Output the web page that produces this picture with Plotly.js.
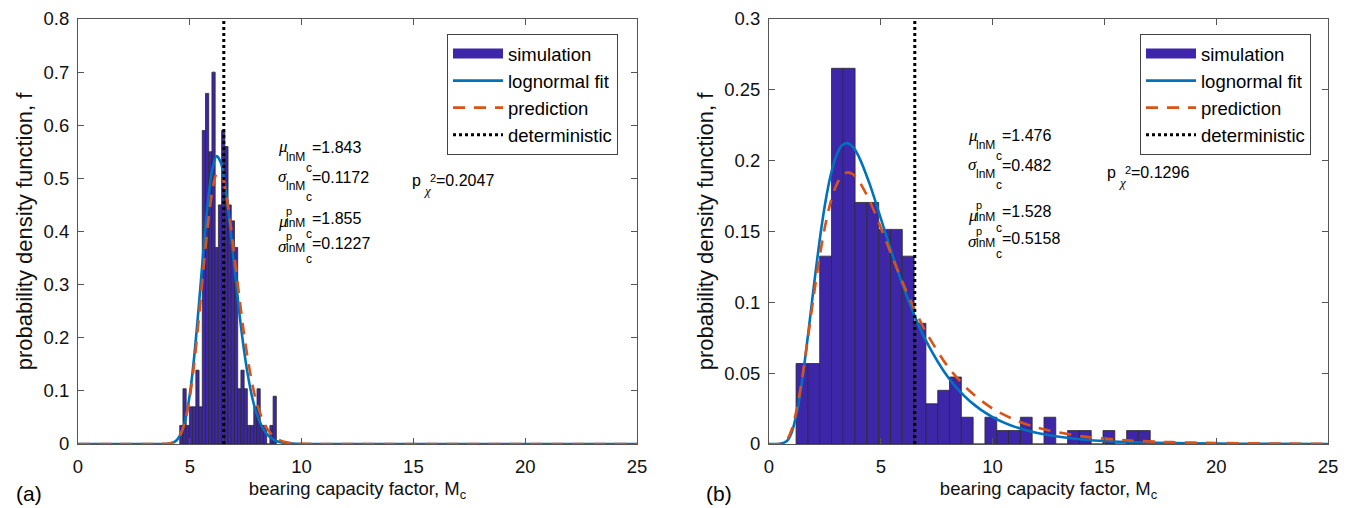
<!DOCTYPE html>
<html>
<head>
<meta charset="utf-8">
<script src="https://cdn.plot.ly/plotly-3.0.1.min.js"></script>
<style>html,body{margin:0;padding:0;background:#fff;}#chart{width:1348px;height:508px;}</style>
</head>
<body>
<div id="chart"></div>
<script>
// ---------------- data ----------------
// (a) histogram of simulated bearing capacity factor (bin centres, density)
const leftBinCenters = [4.622, 4.766, 4.910, 5.054, 5.198, 5.342, 5.486, 5.630, 5.774, 5.918,
  6.062, 6.206, 6.350, 6.494, 6.638, 6.782, 6.926, 7.070, 7.214, 7.358,
  7.502, 7.646, 7.790, 7.934, 8.078, 8.222, 8.366, 8.510, 8.654, 8.798];
const leftBinWidth = 0.144;
const leftDensity = [0.035, 0.104, 0.035, 0.070, 0.070, 0.139, 0.070, 0.590, 0.660, 0.550,
  0.700, 0.370, 0.450, 0.590, 0.560, 0.450, 0.420, 0.370, 0.104, 0.139,
  0.104, 0.035, 0.035, 0.070, 0.104, 0.035, 0.035, 0.000, 0.035, 0.090];

// (a) curves
const leftCurveX = [0, 3.5, 4.0, 4.2, 4.4, 4.6, 4.8, 5.0, 5.2, 5.4, 5.6, 5.8, 6.0, 6.2, 6.4,
  6.6, 6.8, 7.0, 7.2, 7.4, 7.6, 7.8, 8.0, 8.4, 8.8, 9.2, 9.8, 10.5, 12, 25];
const leftFit = [0, 0, 0.0004, 0.0019, 0.0067, 0.0191, 0.0458, 0.0934, 0.1656, 0.2582, 0.3592,
  0.4509, 0.5157, 0.5422, 0.5285, 0.4805, 0.4103, 0.3308, 0.2529, 0.1843, 0.1287, 0.0862,
  0.0557, 0.0210, 0.0070, 0.0021, 0.0003, 0.0000, 0, 0];
const leftPred = [0, 0, 0.0006, 0.0022, 0.0072, 0.0195, 0.0445, 0.0877, 0.1521, 0.2343, 0.3250,
  0.4099, 0.4746, 0.5085, 0.5080, 0.4761, 0.4210, 0.3530, 0.2819, 0.2154, 0.1582, 0.1118,
  0.0763, 0.0325, 0.0124, 0.0043, 0.0008, 0.0001, 0, 0];

// (b) histogram
const rightBinCenters = [1.474, 2.002, 2.530, 3.058, 3.586, 4.114, 4.642, 5.170, 5.698, 6.226,
  6.754, 7.282, 7.810, 8.338, 8.866, 9.394, 9.922, 10.450, 10.978, 11.506,
  12.034, 12.562, 13.090, 13.618, 14.146, 14.674, 15.202, 15.730, 16.258, 16.786];
const rightBinWidth = 0.528;
const rightDensity = [0.0568, 0.0568, 0.1326, 0.2652, 0.2652, 0.1705, 0.1705, 0.1515, 0.1515, 0.1326,
  0.0852, 0.0284, 0.0379, 0.0473, 0.0189, 0, 0.0189, 0.0095, 0.0095, 0.0189,
  0, 0.0189, 0, 0.0095, 0.0095, 0, 0.0095, 0, 0.0095, 0.0095];

// (b) curves
const rightCurveX = [0, 0.5, 0.8, 1.0, 1.25, 1.5, 1.75, 2.0, 2.25, 2.5, 2.75, 3.0, 3.25, 3.5, 3.75,
  4.0, 4.5, 5.0, 5.5, 6.0, 6.5, 7.0, 8.0, 9.0, 10, 11, 12, 14, 16, 18, 20, 22, 25];
const rightFit = [0, 0.0001, 0.0021, 0.0076, 0.0226, 0.0468, 0.0776, 0.1107, 0.1420, 0.1687, 0.1892,
  0.2031, 0.2106, 0.2124, 0.2097, 0.2034, 0.1836, 0.1593, 0.1345, 0.1113, 0.0909, 0.0735,
  0.0473, 0.0300, 0.0190, 0.0121, 0.0077, 0.0032, 0.0014, 0.0006, 0.0003, 0.0001, 0.0000];
const rightPred = [0, 0.0001, 0.0030, 0.0096, 0.0252, 0.0483, 0.0759, 0.1044, 0.1308, 0.1531, 0.1704,
  0.1823, 0.1892, 0.1917, 0.1904, 0.1862, 0.1717, 0.1528, 0.1326, 0.1131, 0.0953, 0.0796,
  0.0546, 0.0370, 0.0250, 0.0170, 0.0115, 0.0054, 0.0026, 0.0013, 0.0007, 0.0004, 0.0001];

const deterministicValue = 6.52;
const leftYMax = 0.8, rightYMax = 0.3;
const xTicks = [0, 5, 10, 15, 20, 25];

const leftStats = ['1.843', '0.1172', '1.855', '0.1227'];
const leftPChi = '0.2047';
const rightStats = ['1.476', '0.482', '1.528', '0.5158'];
const rightPChi = '0.1296';
const seriesNames = ['simulation', 'lognormal fit', 'prediction', 'deterministic'];

// ---------------- styling ----------------
const W = 1348, H = 508;
const FONT = 'Liberation Sans, Arial, sans-serif';
const SERIF = 'Liberation Serif, Times New Roman, serif';
const BAR = '#3E26A8', BLUE = '#0072BD', ORANGE = '#D95319';

function traces(cx, dens, bw, curveX, fit, pred, ymax, xa, ya, leg) {
  return [
    {type: 'bar', x: cx, y: dens, width: bw, name: seriesNames[0], xaxis: xa, yaxis: ya, legend: leg,
     showlegend: false, marker: {color: BAR, line: {color: '#2a2a2a', width: 0.8}}},
    // legend-only swatch for the histogram (wide rectangle like the original)
    {type: 'scatter', mode: 'lines', x: [null], y: [null], name: seriesNames[0], xaxis: xa, yaxis: ya, legend: leg,
     line: {color: BAR, width: 15}},
    {type: 'scatter', mode: 'lines', x: curveX, y: fit, name: seriesNames[1], xaxis: xa, yaxis: ya, legend: leg,
     line: {color: BLUE, width: 2.6, shape: 'spline', smoothing: 0.8}},
    {type: 'scatter', mode: 'lines', x: curveX, y: pred, name: seriesNames[2], xaxis: xa, yaxis: ya, legend: leg,
     line: {color: ORANGE, width: 2.6, dash: '12px,9px', shape: 'spline', smoothing: 0.8}},
    {type: 'scatter', mode: 'lines', x: [deterministicValue, deterministicValue], y: [0, ymax],
     name: seriesNames[3], xaxis: xa, yaxis: ya, legend: leg,
     line: {color: '#000', width: 3, dash: 'dot'}}
  ];
}

const data = [].concat(
  traces(leftBinCenters, leftDensity, leftBinWidth, leftCurveX, leftFit, leftPred, leftYMax, 'x', 'y', 'legend'),
  traces(rightBinCenters, rightDensity, rightBinWidth, rightCurveX, rightFit, rightPred, rightYMax, 'x2', 'y2', 'legend2')
);

function piece(x, y, text, size, serif) {
  return {xref: 'paper', yref: 'paper', x: x / W, y: 1 - y / H, xanchor: 'left', yanchor: 'middle',
    text: text, showarrow: false, borderpad: 0, borderwidth: 0,
    font: {family: serif ? SERIF : FONT, size: size, color: '#000'}};
}

function statsBlock(x0, lines, vals, pxp, pyp, pval) {
  const a = [];
  const greeks = ['μ', 'σ', 'μ', 'σ'];
  lines.forEach((yc, i) => {
    const sup = i >= 2;
    a.push(piece(x0, yc + (sup ? 3 : -1), '<i>' + greeks[i] + '</i>', 17, true));
    if (sup) a.push(piece(x0 + 8, yc - 7, 'p', 11));
    a.push(piece(x0 + 8, yc + (sup ? 5 : 9), 'lnM', 12));
    a.push(piece(x0 + 28, yc + (sup ? 16 : 20), 'c', 12));
    a.push(piece(x0 + 34, yc, '=' + vals[i], 16));
  });
  a.push(piece(pxp, pyp, 'p', 16));
  a.push(piece(pxp + 11, pyp + 10, '<i>χ</i>', 13, true));
  a.push(piece(pxp + 18, pyp - 2, '2', 11));
  a.push(piece(pxp + 24, pyp, '=' + pval, 16));
  return a;
}

const annotations = [].concat(
  statsBlock(278, [148, 177, 218, 243], leftStats, 412, 180, leftPChi),
  statsBlock(968, [136, 165, 212, 238], rightStats, 1107, 172, rightPChi),
  [piece(16, 493, '(a)', 21), piece(706, 493, '(b)', 21)]
);

function xAxis(domain, anchor) {
  return {domain: domain, anchor: anchor, range: [0, 25], tickvals: xTicks, ticks: 'inside', ticklen: 6,
    tickcolor: '#555', showline: true, linecolor: '#555', linewidth: 1, mirror: 'ticks',
    showgrid: false, zeroline: false, tickfont: {family: FONT, size: 18.5, color: '#111'},
    ticklabelstandoff: 6,
    title: {text: 'bearing capacity factor, M<sub>c</sub>', font: {family: FONT, size: 18.5, color: '#111'}, standoff: 5}};
}
function yAxis(domain, anchor, ymax, dt) {
  return {domain: domain, anchor: anchor, range: [0, ymax], dtick: dt, tick0: 0, ticks: 'inside', ticklen: 6,
    tickcolor: '#555', showline: true, linecolor: '#555', linewidth: 1, mirror: 'ticks',
    showgrid: false, zeroline: false, tickfont: {family: FONT, size: 18.5, color: '#111'},
    ticklabelstandoff: 4,
    title: {text: 'probability density function, f', font: {family: FONT, size: 22, color: '#111'}, standoff: 4}};
}

const yDom = [64 / H, 489 / H];
const legendStyle = (x) => ({x: x / W, y: 1 - 34 / H, xref: 'paper', yref: 'paper', xanchor: 'left', yanchor: 'top',
  bgcolor: '#fff', bordercolor: '#444', borderwidth: 1, font: {family: FONT, size: 18.5, color: '#000'},
  itemwidth: 50, tracegroupgap: 0});

const layout = {
  width: W, height: H, margin: {l: 0, r: 0, t: 0, b: 0},
  paper_bgcolor: '#fff', plot_bgcolor: '#fff', showlegend: true, bargap: 0,
  font: {family: FONT, color: '#000'},
  xaxis: xAxis([78 / W, 637 / W], 'y'),
  yaxis: yAxis(yDom, 'x', leftYMax, 0.1),
  xaxis2: xAxis([769 / W, 1328 / W], 'y2'),
  yaxis2: yAxis(yDom, 'x2', rightYMax, 0.05),
  legend: legendStyle(447),
  legend2: legendStyle(1140),
  annotations: annotations
};

Plotly.newPlot('chart', data, layout, {staticPlot: true});
</script>
</body>
</html>
